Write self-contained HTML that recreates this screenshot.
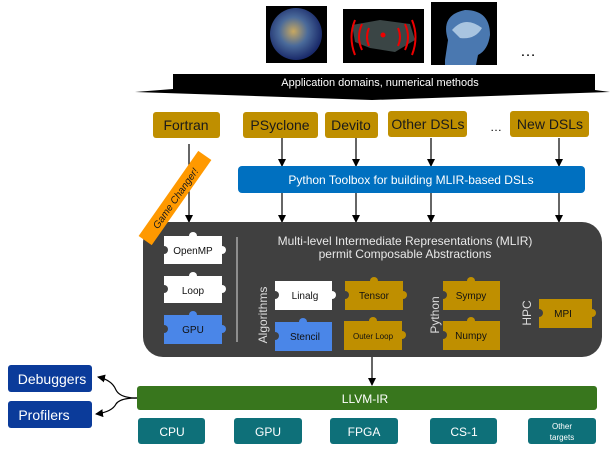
<!DOCTYPE html>
<html><head><meta charset="utf-8"><style>
html,body{margin:0;padding:0;background:#fff;width:610px;height:460px;overflow:hidden}
svg text{font-family:"Liberation Sans",sans-serif}
</style></head><body>
<svg width="610" height="460" viewBox="0 0 610 460" xmlns="http://www.w3.org/2000/svg">
<defs>
<marker id="ah" markerWidth="8" markerHeight="8" refX="7" refY="4" orient="auto" markerUnits="userSpaceOnUse">
<path d="M0,0 L8,4 L0,8 z" fill="#000"/></marker>
<radialGradient id="eg" cx="45%" cy="45%" r="55%"><stop offset="0" stop-color="#c8a860"/><stop offset="0.5" stop-color="#4a6a9a"/><stop offset="1" stop-color="#1a2a6a"/></radialGradient>
</defs>
<!-- images -->
<rect x="266" y="6" width="61" height="57" fill="#000"/>
<circle cx="296" cy="34" r="26" fill="url(#eg)"/>
<rect x="343" y="9" width="81" height="54" fill="#000"/>
<path d="M352,25 L380,20 L410,24 L415,40 L395,52 L370,48 L355,42z" fill="#3a4545"/>
<g fill="none" stroke="#e00" stroke-width="2">
<path d="M355,20 Q348,37 355,55"/><path d="M362,24 Q356,37 362,50"/><path d="M369,28 Q365,37 369,46"/>
<path d="M412,20 Q419,37 412,55"/><path d="M405,24 Q411,37 405,50"/><path d="M398,28 Q402,37 398,46"/>
</g><circle cx="383" cy="35" r="2.5" fill="#e00"/>
<rect x="431" y="2" width="66" height="63" fill="#000"/>
<path d="M445,60 L448,40 Q440,15 465,10 Q490,10 490,35 Q488,50 478,55 L476,65 L445,65z" fill="#4a78b0"/>
<path d="M452,30 Q465,15 482,28 Q475,40 460,38z" fill="#a8c4e0"/>
<text x="520" y="56" font-size="16" fill="#000">…</text>
<!-- banner arrow -->
<path d="M173,74 L595,74 L595,90 L610,92 L372,100 L135,92 L173,89 z" fill="#000"/>
<text x="380" y="86" font-size="11" fill="#fff" text-anchor="middle">Application domains, numerical methods</text>
<!-- DSL boxes -->
<g fill="#bf8f00">
<rect x="153" y="112" width="67" height="26" rx="3"/>
<rect x="243" y="112" width="75" height="26" rx="3"/>
<rect x="325" y="112" width="53" height="26" rx="3"/>
<rect x="388" y="111" width="79" height="26" rx="3"/>
<rect x="510" y="111" width="79" height="26" rx="3"/>
</g>
<g font-size="14" fill="#1a1a1a" text-anchor="middle">
<text x="186" y="130">Fortran</text><text x="280" y="130">PSyclone</text><text x="351" y="130">Devito</text>
<text x="428" y="129">Other DSLs</text><text x="550" y="129">New DSLs</text>
</g>
<text x="490" y="131" font-size="12">…</text>
<!-- arrows -->
<g stroke="#000" stroke-width="1.2" marker-end="url(#ah)">
<line x1="189" y1="144" x2="189" y2="222"/>
<line x1="282" y1="138" x2="282" y2="166"/><line x1="356" y1="138" x2="356" y2="166"/>
<line x1="431" y1="138" x2="431" y2="166"/><line x1="559" y1="138" x2="559" y2="166"/>
<line x1="282" y1="193" x2="282" y2="222"/><line x1="356" y1="193" x2="356" y2="222"/>
<line x1="431" y1="193" x2="431" y2="222"/><line x1="559" y1="193" x2="559" y2="222"/>
<line x1="372" y1="357" x2="372" y2="385"/>
</g>
<rect x="238" y="166" width="347" height="27" rx="4" fill="#0070c0"/>
<text x="411" y="184" font-size="12" fill="#fff" text-anchor="middle">Python Toolbox for building MLIR-based DSLs</text>
<!-- MLIR box -->
<rect x="143" y="222" width="459" height="135" rx="20" fill="#404040"/>
<g transform="translate(175,198) rotate(-55)">
<rect x="-52" y="-8" width="104" height="16" fill="#ff9900"/>
<text x="0" y="4" font-size="10" fill="#1a1a1a" text-anchor="middle" font-style="italic">Game Changer!</text>
</g>
<rect x="143" y="222" width="30" height="20" fill="none"/>
<line x1="237" y1="237" x2="237" y2="342" stroke="#ddd" stroke-width="1"/>
<text x="405" y="245" font-size="12" fill="#e8e8e8" text-anchor="middle">Multi-level Intermediate Representations (MLIR)</text>
<text x="405" y="258" font-size="12" fill="#e8e8e8" text-anchor="middle">permit Composable Abstractions</text>
<g font-size="12" fill="#ddd" text-anchor="middle">
<text transform="translate(267,315) rotate(-90)">Algorithms</text>
<text transform="translate(439,315) rotate(-90)">Python</text>
<text transform="translate(531,313) rotate(-90)">HPC</text>
</g>
<!-- puzzle pieces -->
<g id="pz">
<g fill="#fff"><rect x="164" y="236" width="58" height="28"/><circle cx="193" cy="236" r="4"/><circle cx="222" cy="250" r="4"/></g>
<circle cx="164" cy="250" r="4" fill="#404040"/>
<g fill="#fff"><rect x="164" y="276" width="58" height="27"/><circle cx="193" cy="276" r="4"/><circle cx="222" cy="289" r="4"/></g>
<circle cx="164" cy="289" r="4" fill="#404040"/>
<g fill="#4a86e8"><rect x="164" y="315" width="58" height="29"/><circle cx="193" cy="315" r="4"/><circle cx="222" cy="329" r="4"/></g>
<circle cx="164" cy="329" r="4" fill="#404040"/>
<g fill="#fff"><rect x="275" y="281" width="57" height="29"/><circle cx="332" cy="295" r="4"/></g>
<circle cx="275" cy="295" r="4" fill="#404040"/>
<g fill="#4a86e8"><rect x="275" y="322" width="57" height="29"/><circle cx="303" cy="322" r="4"/></g>
<circle cx="275" cy="336" r="4" fill="#404040"/>
<g fill="#bf8f00"><rect x="345" y="281" width="58" height="29"/><circle cx="374" cy="281" r="4"/><circle cx="403" cy="295" r="4"/></g>
<circle cx="345" cy="295" r="4" fill="#404040"/>
<g fill="#bf8f00"><rect x="344" y="321" width="58" height="29"/><circle cx="373" cy="321" r="4"/><circle cx="402" cy="335" r="4"/></g>
<g fill="#bf8f00"><rect x="443" y="281" width="57" height="29"/><circle cx="471" cy="281" r="4"/></g>
<circle cx="443" cy="295" r="4" fill="#404040"/>
<g fill="#bf8f00"><rect x="443" y="321" width="57" height="29"/><circle cx="471" cy="321" r="4"/></g>
<circle cx="443" cy="335" r="4" fill="#404040"/>
<g fill="#bf8f00"><rect x="539" y="299" width="53" height="29"/><circle cx="592" cy="313" r="4"/></g>
<circle cx="539" cy="313" r="4" fill="#404040"/>
</g>
<g font-size="10" fill="#111" text-anchor="middle">
<text x="193" y="254">OpenMP</text><text x="193" y="294">Loop</text><text x="193" y="333">GPU</text>
<text x="305" y="299">Linalg</text><text x="305" y="340">Stencil</text>
<text x="374" y="299">Tensor</text><text x="373" y="339" font-size="8">Outer Loop</text>
<text x="471" y="299">Sympy</text><text x="471" y="339">Numpy</text><text x="563" y="317">MPI</text>
</g>
<!-- LLVM -->
<rect x="137" y="386" width="460" height="24" rx="3" fill="#38761d"/>
<text x="365" y="403" font-size="12" fill="#fff" text-anchor="middle">LLVM-IR</text>
<g fill="#0e7079">
<rect x="138" y="418" width="67" height="26" rx="3"/><rect x="234" y="418" width="68" height="26" rx="3"/>
<rect x="330" y="418" width="68" height="26" rx="3"/><rect x="430" y="418" width="67" height="26" rx="3"/>
<rect x="528" y="418" width="68" height="26" rx="3"/>
</g>
<g font-size="12" fill="#fff" text-anchor="middle">
<text x="172" y="436">CPU</text><text x="268" y="436">GPU</text><text x="364" y="436">FPGA</text><text x="464" y="436">CS-1</text>
<text x="562" y="429" font-size="8">Other</text><text x="562" y="440" font-size="8">targets</text>
</g>
<rect x="8" y="365" width="84" height="27" rx="3" fill="#0b3b9a"/>
<rect x="8" y="401" width="84" height="27" rx="3" fill="#0b3b9a"/>
<text x="52" y="384" font-size="14" fill="#fff" text-anchor="middle">Debuggers</text>
<text x="44" y="420" font-size="14" fill="#fff" text-anchor="middle">Profilers</text>
<g fill="none" stroke="#000" stroke-width="1.2" marker-end="url(#ah)">
<path d="M137,398 Q120,398 116,390 Q112,380 98,377"/>
<path d="M137,398 Q120,398 116,404 Q112,412 96,414"/>
</g>
</svg>
</body></html>
